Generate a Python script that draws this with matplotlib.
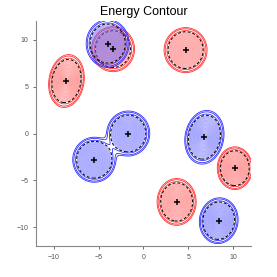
import matplotlib
matplotlib.use("Agg")
import matplotlib.pyplot as plt
import numpy as np

plt.rcParams['font.family'] = ['Liberation Sans', 'DejaVu Sans']

# cluster centres and ellipse shapes (std along major/minor axis, angle in deg)
red_x = [-8.6, 4.7, 10.2, 3.7, -3.4]
red_y = [5.6, 8.9, -3.7, -7.3, 9.0]
red_sa = [1.16, 0.98, 0.93, 1.02, 0.98]
red_sb = [0.80, 0.98, 0.80, 0.89, 0.98]
red_ang = [80, 0, 90, 90, 0]

blue_x = [-4.0, -1.7, -5.5, 6.8, 8.4]
blue_y = [9.6, 0.0, -2.8, -0.4, -9.3]
blue_sa = [1.04, 0.98, 0.98, 1.18, 1.0]
blue_sb = [0.98, 0.98, 0.98, 0.88, 0.88]
blue_ang = [90, 0, 0, 78, 80]

xticks = [-10, -5, 0, 5, 10]
yticks = [-10, -5, 0, 5, 10]

# contour radii (in sigma units)
inner_r = np.linspace(0.1, 1.93, 26)
dash_r = 2.0
outer_r = [2.12, 2.32, 2.45]


def energy(X, Y, cx, cy, sa, sb, ang):
    Z = np.zeros_like(X)
    for x0, y0, a, b, t in zip(cx, cy, sa, sb, ang):
        th = np.deg2rad(t)
        dx, dy = X - x0, Y - y0
        u = dx * np.cos(th) + dy * np.sin(th)
        v = -dx * np.sin(th) + dy * np.cos(th)
        Z += np.exp(-0.5 * ((u / a) ** 2 + (v / b) ** 2))
    return Z


def lev(r):
    return np.sort(np.exp(-0.5 * np.asarray(r, dtype=float) ** 2))


gx = np.linspace(-12, 12, 700)
X, Y = np.meshgrid(gx, gx)

fig = plt.figure(figsize=(2.77, 2.77), dpi=100)
ax = fig.add_axes([0.130, 0.112, 0.776, 0.812])

for cx, cy, sa, sb, ang, col, col2 in [
    (red_x, red_y, red_sa, red_sb, red_ang, "#ff7070", "#ff3030"),
    (blue_x, blue_y, blue_sa, blue_sb, blue_ang, "#7070ff", "#3030ff"),
]:
    Z = energy(X, Y, cx, cy, sa, sb, ang)
    ax.contour(X, Y, Z, levels=lev(inner_r), colors=col, linewidths=0.3)
    ax.contour(X, Y, Z, levels=lev(outer_r), colors=col2, linewidths=0.6)
    ax.contour(X, Y, Z, levels=[lev([dash_r])[0]], colors="k",
               linewidths=0.7, linestyles=[(0, (3, 2))])

ax.plot(red_x + blue_x, red_y + blue_y, "k+", markersize=5, mew=1.1)

ax.set_xlim(-12, 12)
ax.set_ylim(-12, 12)
ax.set_xticks(xticks)
ax.set_yticks(yticks)
ax.tick_params(labelsize=5, length=2, width=0.6, colors="#555555")
for s in ["top", "right"]:
    ax.spines[s].set_visible(False)
for s in ["left", "bottom"]:
    ax.spines[s].set_color("#888888")
    ax.spines[s].set_linewidth(0.8)
ax.set_title("Energy Contour", fontsize=9, pad=4)

plt.savefig("out.png", dpi=100)
